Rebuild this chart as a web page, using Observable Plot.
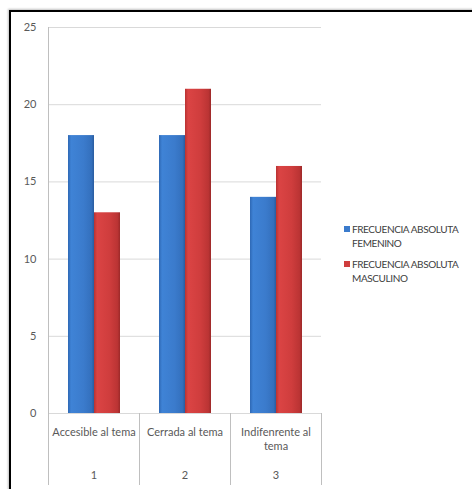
<!DOCTYPE html>
<html>
<head>
<meta charset="utf-8">
<script src="https://cdn.jsdelivr.net/npm/d3@7"></script>
<script src="https://cdn.jsdelivr.net/npm/@observablehq/plot@0.6"></script>
<style>
  html, body { margin: 0; padding: 0; background: #fff; }
  #wrap { position: relative; width: 472px; height: 489px; overflow: hidden; font-family: Lato, "Open Sans", sans-serif; }
  #border { position: absolute; left: 9px; top: 10px; width: 500px; height: 500px; border: 2px solid #000; box-shadow: -1px -1px 2px rgba(0,0,0,0.25); }
  #chart { position: absolute; left: 0; top: 0; }
  #legend { position: absolute; left: 344px; top: 222px; font-size: 10px; line-height: 14px; color: #404040; letter-spacing: -0.4px; }
  .item { position: relative; padding-left: 8px; margin-bottom: 7px; }
  .sw { position: absolute; left: 0; top: 4px; width: 6px; height: 6px; }
</style>
</head>
<body>
<svg width="0" height="0" style="position:absolute">
  <defs>
    <linearGradient id="gradBlue" x1="0" x2="1" y1="0" y2="0">
      <stop offset="0" stop-color="#2e68b4"/>
      <stop offset="0.12" stop-color="#3f83d6"/>
      <stop offset="0.6" stop-color="#3b7bcc"/>
      <stop offset="0.9" stop-color="#3470bd"/>
      <stop offset="1" stop-color="#2a5c9f"/>
    </linearGradient>
    <linearGradient id="gradRed" x1="0" x2="1" y1="0" y2="0">
      <stop offset="0" stop-color="#b83232"/>
      <stop offset="0.12" stop-color="#db4444"/>
      <stop offset="0.6" stop-color="#cf3d3d"/>
      <stop offset="0.9" stop-color="#bb3434"/>
      <stop offset="1" stop-color="#9c2929"/>
    </linearGradient>
  </defs>
</svg>
<div id="wrap">
  <div id="chart"></div>
  <div id="border"></div>
  <div id="legend"></div>
</div>
<script>
const categories = ["Accesible al tema", "Cerrada al tema", "Indifenrente al tema"];
const indices = ["1", "2", "3"];
const seriesNames = ["FRECUENCIA ABSOLUTA FEMENINO", "FRECUENCIA ABSOLUTA MASCULINO"];
const legendLines = [["FRECUENCIA ABSOLUTA", "FEMENINO"], ["FRECUENCIA ABSOLUTA", "MASCULINO"]];
const femenino = [18, 18, 14];
const masculino = [13, 21, 16];
const yTicks = [0, 5, 10, 15, 20, 25];
const fills = ["url(#gradBlue)", "url(#gradRed)"];
const swatch = ["#3b7bcc", "#cf3d3d"];

const rowsF = categories.map((c, i) => ({cat: c, series: seriesNames[0], value: femenino[i]}));
const rowsM = categories.map((c, i) => ({cat: c, series: seriesNames[1], value: masculino[i]}));

const chart = Plot.plot({
  width: 472,
  height: 489,
  marginLeft: 47,
  marginRight: 150,
  marginTop: 27,
  marginBottom: 76,
  style: {fontFamily: "Lato, 'Open Sans', sans-serif", background: "transparent"},
  fx: {domain: categories, paddingInner: 0, paddingOuter: 0, axis: null},
  x: {domain: seriesNames, paddingInner: 0, paddingOuter: 0.73, axis: null},
  y: {domain: [0, 25], axis: null},
  marks: [
    Plot.ruleY(yTicks, {stroke: "#d9d9d9", strokeWidth: 1}),
    Plot.axisY({ticks: yTicks, tickSize: 0, tickPadding: 12, fontSize: 11, fill: "#595959", label: null, facetAnchor: "left"}),
    Plot.barY(rowsF, {fx: "cat", x: "series", y: "value", fill: fills[0]}),
    Plot.barY(rowsM, {fx: "cat", x: "series", y: "value", fill: fills[1]}),
    Plot.text(categories, {fx: d => d, text: d => d, frameAnchor: "bottom", lineAnchor: "top", dy: 12, lineWidth: 8.9, lineHeight: 1.3, fontSize: 11, fill: "#595959"}),
    Plot.text(categories, {fx: d => d, text: (d, i) => indices[i], frameAnchor: "bottom", lineAnchor: "middle", dy: 62, fontSize: 11, fill: "#595959"})
  ]
});
document.getElementById("chart").appendChild(chart);

// separators and left axis line, positioned through the library's scales
const fx = chart.scale("fx");
const y = chart.scale("y");
const svg = d3.select(chart);
const y0 = y.apply(0), yTop = y.apply(25);
const bounds = categories.map(c => fx.apply(c));
bounds.push(fx.apply(categories[categories.length - 1]) + fx.bandwidth);
const g = svg.append("g").attr("stroke", "#bfbfbf").attr("stroke-width", 1);
g.append("line").attr("x1", bounds[0] + 0.5).attr("x2", bounds[0] + 0.5).attr("y1", yTop).attr("y2", y0);
bounds.forEach(b => {
  g.append("line").attr("x1", Math.round(b) + 0.5).attr("x2", Math.round(b) + 0.5).attr("y1", y0).attr("y2", y0 + 72);
});

// legend
const legend = d3.select("#legend");
legendLines.forEach((lines, i) => {
  const it = legend.append("div").attr("class", "item");
  it.append("div").attr("class", "sw").style("background", swatch[i]);
  it.append("div").html(lines.join("<br>"));
});
</script>
</body>
</html>
